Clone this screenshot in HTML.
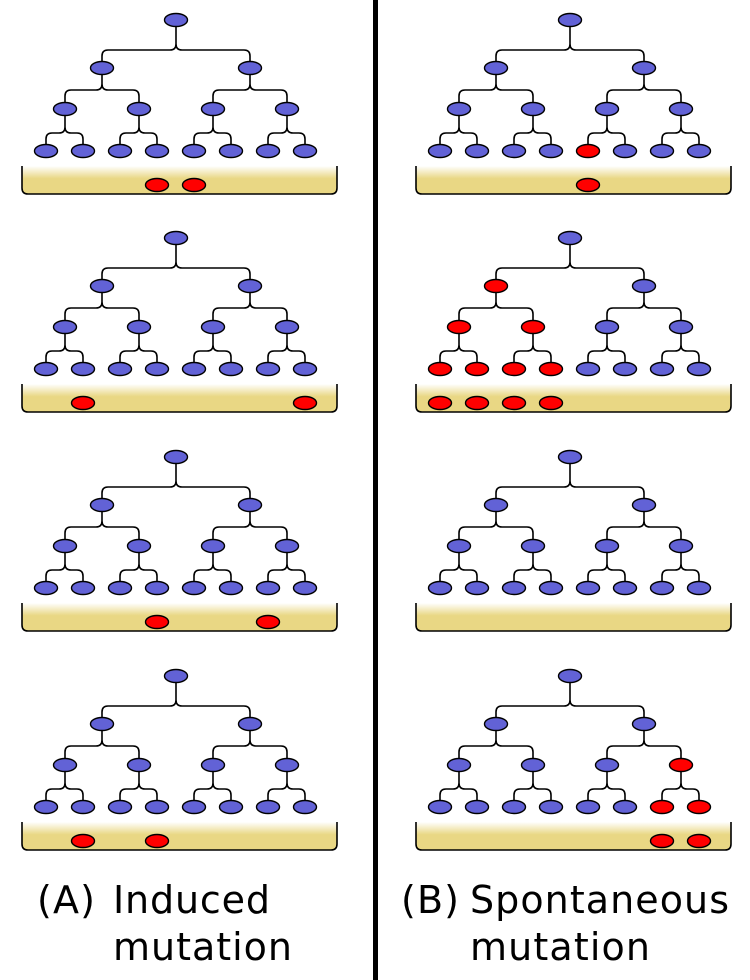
<!DOCTYPE html>
<html><head><meta charset="utf-8"><style>
html,body{margin:0;padding:0;background:#fff;width:750px;height:980px;overflow:hidden}
svg text{font-family:"DejaVu Sans","Liberation Sans",sans-serif;font-size:38px;fill:#000}
</style></head><body>
<svg id="s" width="750" height="980" viewBox="0 0 750 980" xmlns="http://www.w3.org/2000/svg">
<defs><linearGradient id="dg" x1="0" y1="0" x2="0" y2="1">
<stop offset="0" stop-color="#fff"/><stop offset="0.45" stop-color="#e9d784"/><stop offset="1" stop-color="#e9d784"/></linearGradient></defs>
<rect x="373" y="0" width="5" height="980" fill="#000"/>
<text x="37" y="913" textLength="58">(A)</text>
<text x="113" y="913" textLength="157">Induced</text>
<text x="113" y="960" textLength="179">mutation</text>
<text x="401" y="913" textLength="58">(B)</text>
<text x="470" y="913" textLength="259">Spontaneous</text>
<text x="470" y="960" textLength="180">mutation</text>
</svg>
<script>
// panel mutant data: level2 (2), level3 (4), leaves (8), dish indices
const panelOffsetsY=[0,218,437,656];
const leftDish=[[3,4],[1,7],[3,6],[1,3]];
const rightL2=[[],[0],[],[]];
const rightL3=[[],[0,1],[],[3]];
const rightLeaves=[[4],[0,1,2,3],[],[6,7]];
const rightDish=[[4],[0,1,2,3],[],[6,7]];
const NS="http://www.w3.org/2000/svg";
const svg=document.getElementById('s');
function mk(tag,attrs,parent){const e=document.createElementNS(NS,tag);for(const k in attrs)e.setAttribute(k,attrs[k]);(parent||svg).appendChild(e);return e;}
function cell(g,x,y,red){const e=mk('ellipse',{cx:x,cy:y,rx:11.5,ry:6.5,fill:red?'#ff0000':'#6262d6',stroke:'#000','stroke-width':1.4},g);

}
function brace(g,px,py,lx,rx,yb,cy){const r=6;
const d=`M${px},${py} L${px},${yb-r} Q${px},${yb} ${px-r},${yb} L${lx+r},${yb} Q${lx},${yb} ${lx},${yb+r} L${lx},${cy} M${px},${yb-r} Q${px},${yb} ${px+r},${yb} L${rx-r},${yb} Q${rx},${yb} ${rx},${yb+r} L${rx},${cy}`;
const p=mk('path',{d:d,fill:'none',stroke:'#000','stroke-width':1.6},g);

}
function panel(ox,oy,l2,l3,lv,dish,name){
const g=mk('g',{transform:`translate(${ox},${oy})`});


const L2=[102,250],L3=[65,139,213,287],L4=[46,83,120,157,194,231,268,305];
brace(g,176,27,L2[0],L2[1],50,61);
for(let i=0;i<2;i++)brace(g,L2[i],75,L3[2*i],L3[2*i+1],90,102);
for(let i=0;i<4;i++)brace(g,L3[i],116,L4[2*i],L4[2*i+1],133,144);
const dp=mk('path',{d:'M22,166 L22,188 Q22,194 28,194 L331,194 Q337,194 337,188 L337,166',fill:'url(#dg)',stroke:'#000','stroke-width':1.6},g);


cell(g,176,20,false);
L2.forEach((x,i)=>cell(g,x,68,l2.includes(i)));
L3.forEach((x,i)=>cell(g,x,109,l3.includes(i)));
L4.forEach((x,i)=>cell(g,x,151,lv.includes(i)));
dish.forEach(i=>cell(g,L4[i],185,true));
}
for(let p=0;p<4;p++){
panel(0,panelOffsetsY[p],[],[],[],leftDish[p],'induced-panel-'+(p+1));
panel(394,panelOffsetsY[p],rightL2[p],rightL3[p],rightLeaves[p],rightDish[p],'spontaneous-panel-'+(p+1));
}
</script>
</body></html>
